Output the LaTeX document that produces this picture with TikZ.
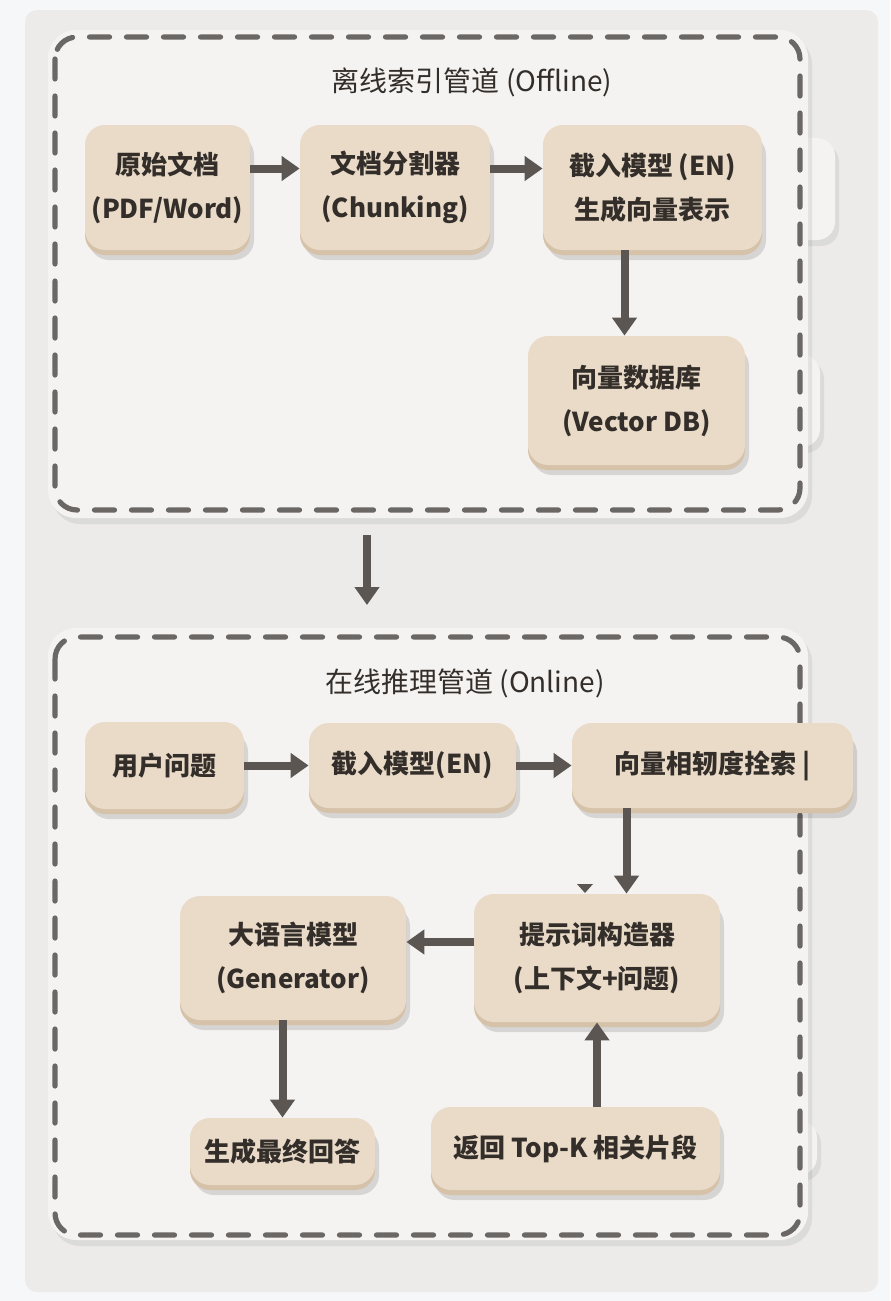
\documentclass[tikz,border=0pt]{standalone}
\usepackage{fontspec}
\setmainfont{Noto Sans CJK SC}
\usepackage{tikz}
\usetikzlibrary{arrows.meta,shadows}
\definecolor{pagebg}{HTML}{F6F7F9}
\definecolor{cardbg}{HTML}{ECEBE9}
\definecolor{panelbg}{HTML}{F4F3F1}
\definecolor{stitch}{HTML}{6A6764}
\definecolor{clay}{HTML}{E9DBC8}
\definecolor{claylip}{HTML}{D5C2A9}
\definecolor{ink}{HTML}{342E2A}
\definecolor{rod}{HTML}{5B5652}

\begin{document}
\begin{tikzpicture}[x=0.5pt,y=-0.5pt,
		clay/.style={rectangle,rounded corners=10pt,fill=clay,text=ink,align=center,
			font=\fontsize{13}{22}\selectfont\bfseries,inner sep=0pt,
			general shadow={shadow xshift=2pt,shadow yshift=-5pt,fill=black,opacity=.12},
			general shadow={shadow yshift=-2.5pt,fill=claylip}},
		flow/.style={rod,line width=4pt,-{Triangle[width=12pt,length=9pt]}},
		stitches/.style={stitch,line width=2.6pt,line cap=round,dash pattern=on 10pt off 8.5pt,rounded corners=11pt},
		panel/.style={fill=panelbg,rounded corners=14pt,drop shadow={shadow xshift=2pt,shadow yshift=-3pt,opacity=.15}},
		title/.style={text=ink,font=\fontsize{14}{17}\selectfont}]
		\useasboundingbox (0,0) rectangle (890,1301);
		\fill[pagebg] (0,0) rectangle (890,1301);
		\fill[cardbg,rounded corners=6pt] (25,10) rectangle (878,1292);
		% offline panel
		\fill[panel,rounded corners=9pt] (780,138) rectangle (835,240);
		\fill[panel,rounded corners=9pt] (780,355) rectangle (820,447);
		\fill[panel] (48,30) rectangle (808,518);
		\draw[stitches] (55,37) rectangle (800,510);
		\node[title] (offT) at (472,82) {离线索引管道 (Offline)};
		% online panel
		\fill[panel,rounded corners=9pt] (780,1120) rectangle (817,1175);
		\fill[panel] (48,628) rectangle (808,1240);
		\draw[stitches] (55,637) rectangle (800,1235);
		\node[title] (onT) at (465,683) {在线推理管道 (Online)};

		\node[clay,minimum width=82.5pt,minimum height=62.5pt] (src) at (167.5,187.5) {原始文档\\(PDF/Word)};
		\node[clay,minimum width=95pt,minimum height=62.5pt] (split) at (395,187.5) {文档分割器\\(Chunking)};
		\node[clay,minimum width=109.5pt,minimum height=62.5pt] (embed) at (652.5,187.5) {截入模型 (EN)\\生成向量表示};
		\node[clay,minimum width=108.5pt,minimum height=64.5pt] (vdb) at (636.5,400.5) {向量数据库\\(Vector DB)};

		\node[clay,minimum width=79.5pt,minimum height=43.5pt] (query) at (164.5,765.5) {用户问题};
		\node[clay,minimum width=103.5pt,minimum height=42.5pt] (qembed) at (412.5,765.5) {截入模型(EN)};
		\node[clay,minimum width=140.5pt,minimum height=42.5pt] (search) at (712.5,765.5) {向量相轫度拴索 |};
		\node[clay,minimum width=123pt,minimum height=64pt] (prompt) at (597,958) {提示词构造器\\(上下文+问题)};
		\node[clay,minimum width=113pt,minimum height=62pt] (llm) at (293,958) {大语言模型\\(Generator)};
		\node[clay,minimum width=92.5pt,minimum height=33.5pt] (answer) at (282.5,1151.5) {生成最终回答};
		\node[clay,minimum width=144.5pt,minimum height=41.5pt] (topk) at (575.5,1148.5) {返回 Top-K 相关片段};

		\coordinate (gapTop) at (367,535);
		\coordinate (gapBot) at (367,605);
		\fill[rod] (577,884) -- (593,884) -- (585,893) -- cycle;

		\draw[flow] ([yshift=9.5pt]src.east) -- ([yshift=9.5pt]split.west);
		\draw[flow] ([yshift=9.5pt]split.east) -- ([yshift=9.5pt]embed.west);
		\draw[flow] ([xshift=-14pt]embed.south) -- ([xshift=-14pt]embed.south |- vdb.north);
		\draw[flow] (gapTop) -- (gapBot);
		\draw[flow] (query) -- (qembed);
		\draw[flow] (qembed) -- (search);
		\draw[flow] ([xshift=-43pt]search.south) -- ([xshift=-43pt]search.south |- prompt.north);
		\draw[flow] ([yshift=8pt]prompt.west) -- ([yshift=8pt]llm.east);
		\draw[flow] (llm.south -| answer.north) -- (answer.north);
		\draw[flow] (topk.north -| prompt.south) -- (prompt.south);
	\end{tikzpicture}
\end{document}
